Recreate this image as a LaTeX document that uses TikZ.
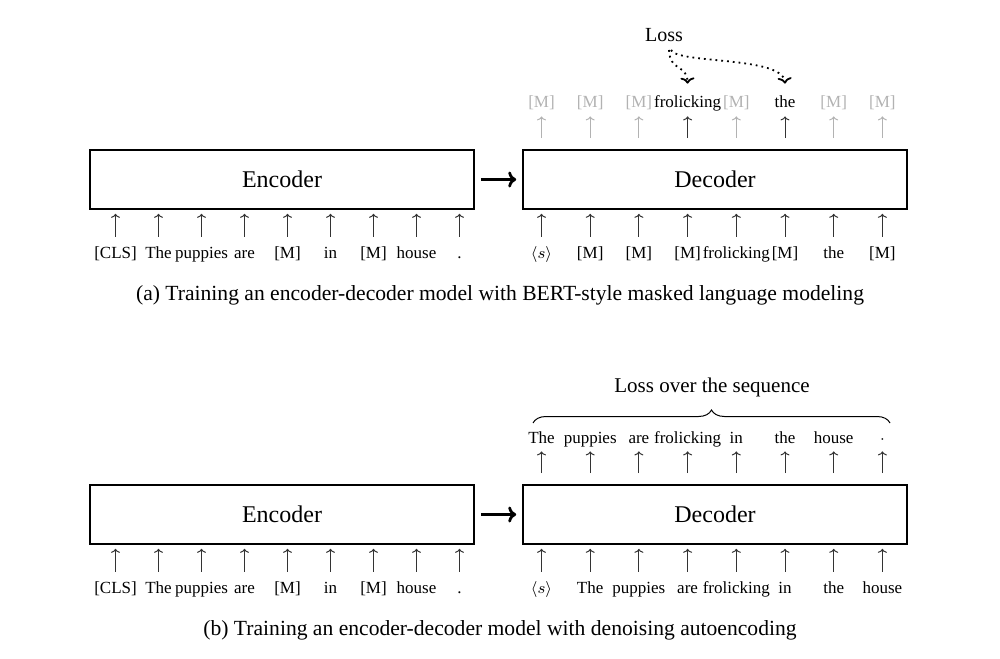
\documentclass[tikz,border=0pt]{standalone}
\usepackage{fontspec}
\setmainfont{Liberation Serif}
\usepackage{tikz}
\usetikzlibrary{positioning,arrows.meta,decorations.pathreplacing}
\tikzstyle{block} = [rectangle, draw, line width=0.8pt, minimum width=192pt, minimum height=29.5pt, inner sep=0pt, font=\fontsize{12}{14}\selectfont]
\tikzstyle{intok} = [inner xsep=0pt, inner ysep=4.5pt, text height=6pt, text depth=2pt, anchor=base, font=\fontsize{8.5}{10}\selectfont]
\tikzstyle{outtok} = [intok, inner ysep=2pt]
\tikzstyle{line} = [draw, black!80, line width=0.5pt, -{To[length=2pt,width=4.5pt]}]
\tikzstyle{link} = [draw, line width=1.4pt, shorten <=3pt, shorten >=3pt, -{To[length=4pt,width=8pt]}]
\tikzstyle{shown} = []
\tikzstyle{masked} = [black!30]
\tikzstyle{caption} = [anchor=base, font=\fontsize{10.8}{12}\selectfont]
\tikzstyle{losslabel} = [anchor=base, font=\fontsize{10.5}{12}\selectfont]
\tikzstyle{lossline} = [draw, dotted, line width=0.9pt, -{To[length=3pt,width=7pt,line width=0.9pt]}]

\begin{document}
\begin{tikzpicture}[x=0.5pt, y=-0.5pt]
\useasboundingbox (0,0) rectangle (1000,658);
% (a) Masked language modeling
	%	Encoder and Decoder
    \node [block] (enca) at (282,179.5) {Encoder};
    \node [block] (deca) at (715,179.5) {Decoder};
    \path [link] (enca) -- (deca);
    %	Inputs
    \foreach \w [count=\i] in {{[CLS]},The,puppies,are,{[M]},in,{[M]},house,.}{
      \node [intok] (ina\i) at ({115.5+43*(\i-1)},258) {\w};
      \path [line] (ina\i.north) -- ([yshift=-2pt]ina\i.north |- enca.south);
    }
    \foreach \w [count=\i] in {{$\langle s\rangle$},{[M]},{[M]},{[M]},frolicking,{[M]},the,{[M]}}{
      \node [intok] (dina\i) at ({541.5+48.7*(\i-1)},258) {\w};
      \path [line] (dina\i.north) -- ([yshift=-2pt]dina\i.north |- deca.south);
    }
    %	Outputs
    \foreach \w/\c [count=\i] in {{[M]}/masked,{[M]}/masked,{[M]}/masked,frolicking/shown,{[M]}/masked,the/shown,{[M]}/masked,{[M]}/masked}{
      \node [outtok, \c] (outa\i) at ({541.5+48.7*(\i-1)},108) {\w};
      \path [line, \c] ([yshift=5.5pt]deca.north -| outa\i.south) -- (outa\i.south);
    }
    %	Loss
    \node [font=\fontsize{10}{12}\selectfont, anchor=base] (lossa) at (664,42) {Loss};
    \path [lossline] (669,50) .. controls (670,72) and (687,64) .. ([yshift=4pt]outa4.north);
    \path [lossline] (671,50) .. controls (677,64) and (783,56) .. ([yshift=4pt]outa6.north);
    \node [caption] (capa) at (500,300) {(a) Training an encoder-decoder model with BERT-style masked language modeling};
% (b) Denoising autoencoding
	%	Encoder and Decoder
    \node [block] (encb) at (282,514.5) {Encoder};
    \node [block] (decb) at (715,514.5) {Decoder};
    \path [link] (encb) -- (decb);
    %	Inputs
    \foreach \w [count=\i] in {{[CLS]},The,puppies,are,{[M]},in,{[M]},house,.}{
      \node [intok] (inb\i) at ({115.5+43*(\i-1)},593) {\w};
      \path [line] (inb\i.north) -- ([yshift=-2pt]inb\i.north |- encb.south);
    }
    \foreach \w [count=\i] in {{$\langle s\rangle$},The,puppies,are,frolicking,in,the,house}{
      \node [intok] (dinb\i) at ({541.5+48.7*(\i-1)},593) {\w};
      \path [line] (dinb\i.north) -- ([yshift=-2pt]dinb\i.north |- decb.south);
    }
    %	Outputs
    \foreach \w [count=\i] in {The,puppies,are,frolicking,in,the,house,{$\cdot$}}{
      \node [outtok] (outb\i) at ({541.5+48.7*(\i-1)},443) {\w};
      \path [line] ([yshift=5.5pt]decb.north -| outb\i.south) -- (outb\i.south);
    }
    %	Loss over the sequence
    \draw [decorate, decoration={brace, amplitude=6.5pt}, line width=0.5pt] (533,423) -- (890,423);
    \node [losslabel] (lossb) at (712,392) {Loss over the sequence};
    \node [caption] (capb) at (500,635) {(b) Training an encoder-decoder model with denoising autoencoding};
\end{tikzpicture}
\end{document}
